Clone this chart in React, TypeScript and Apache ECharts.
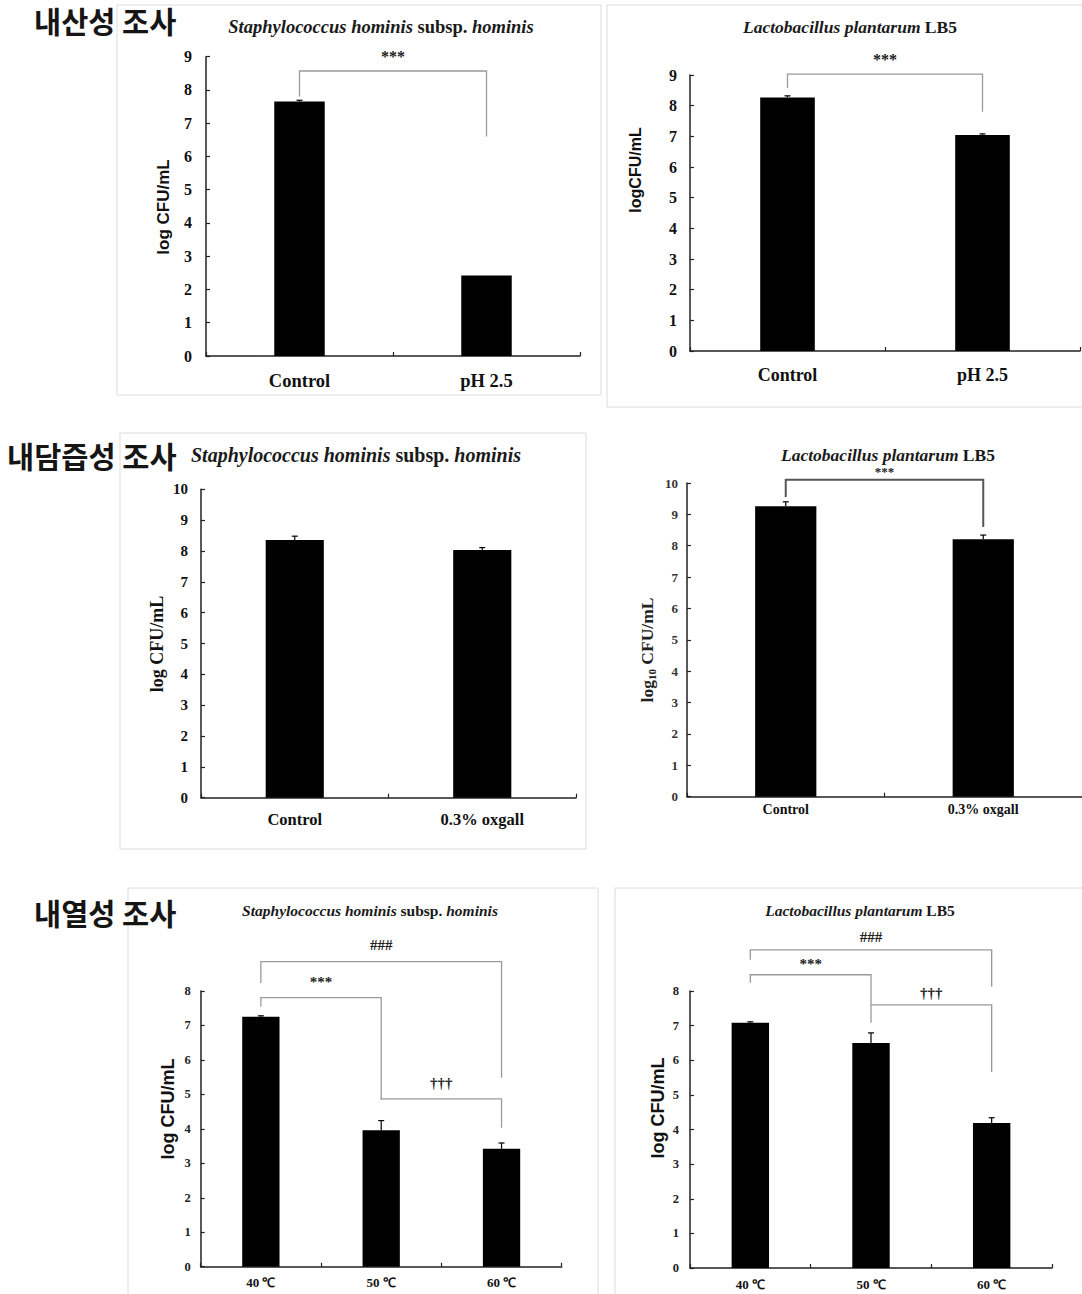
import React, { useEffect, useRef } from "react";
import * as echarts from "echarts";

// ---------- data ----------
const acidCats = ["Control", "pH 2.5"];
const bileCats = ["Control", "0.3% oxgall"];
const heatCats = ["40 ℃", "50 ℃", "60 ℃"];

const acidStaphMeans = [7.65, 2.42];
const acidStaphErr = [0.04, 0];
const acidLactoMeans = [8.27, 7.04];
const acidLactoErr = [0.05, 0.04];
const bileStaphMeans = [8.36, 8.03];
const bileStaphErr = [0.12, 0.08];
const bileLactoMeans = [9.26, 8.21];
const bileLactoErr = [0.14, 0.13];
const heatStaphMeans = [7.25, 3.96, 3.42];
const heatStaphErr = [0.03, 0.28, 0.17];
const heatLactoMeans = [7.08, 6.5, 4.19];
const heatLactoErr = [0.03, 0.29, 0.15];

// significance brackets: [fromIndex, toIndex, topY, leftEndY, rightEndY, labelY]
const acidStaphBrackets = [[0, 1, 8.57, 7.8, 6.6, 9.0]];
const acidStaphMarks = ["***"];
const acidLactoBrackets = [[0, 1, 9.03, 8.58, 7.8, 9.49]];
const acidLactoMarks = ["***"];
const bileStaphBrackets: number[][] = [];
const bileStaphMarks: string[] = [];
const bileLactoBrackets = [[0, 1, 10.1, 9.55, 8.6, 10.36]];
const bileLactoMarks = ["***"];
const heatStaphBrackets = [
  [0, 2, 8.85, 8.23, 5.48, 9.34],
  [0, 1, 7.81, 7.54, 4.84, 8.26],
  [1, 2, 4.87, 4.87, 4.03, 5.33],
];
const heatStaphMarks = ["###", "***", "†††"];
const heatLactoBrackets = [
  [0, 2, 9.19, 8.9, 8.12, 9.57],
  [0, 1, 8.47, 8.24, 7.08, 8.79],
  [1, 2, 7.6, 7.6, 5.66, 7.95],
];
const heatLactoMarks = ["###", "***", "†††"];

const staphTitle = "{i|Staphylococcus hominis} {n|subsp.} {i|hominis}";
const lactoTitle = "{i|Lactobacillus plantarum} {n|LB5}";

const SERIF = "Liberation Serif";
const SANS = "Liberation Sans";
const KR = "Noto Sans CJK KR";

type Panel = {
  grid: any;
  cats: string[];
  means: number[];
  errs: number[];
  max: number;
  barWidth: string;
  brackets: number[][];
  marks: string[];
  tickFont: number;
  tickMargin: number;
  catFont: number;
  catMargin: number;
  markFont: number;
  bracketColor: string;
  bracketWidth: number;
  tickColor: string;
};

const panels: Panel[] = [
  {
    grid: { left: 206, top: 56.7, width: 374, height: 299.3 },
    cats: acidCats, means: acidStaphMeans, errs: acidStaphErr, max: 9, barWidth: "27%",
    brackets: acidStaphBrackets, marks: acidStaphMarks,
    tickFont: 16, tickMargin: 14, catFont: 18.5, catMargin: 15, markFont: 16,
    bracketColor: "#9a9a9a", bracketWidth: 1.3, tickColor: "#111",
  },
  {
    grid: { left: 690, top: 75, width: 390, height: 276 },
    cats: acidCats, means: acidLactoMeans, errs: acidLactoErr, max: 9, barWidth: "28%",
    brackets: acidLactoBrackets, marks: acidLactoMarks,
    tickFont: 16, tickMargin: 13, catFont: 18, catMargin: 15, markFont: 16,
    bracketColor: "#9a9a9a", bracketWidth: 1.3, tickColor: "#111",
  },
  {
    grid: { left: 201, top: 489.3, width: 375, height: 308.4 },
    cats: bileCats, means: bileStaphMeans, errs: bileStaphErr, max: 10, barWidth: "31%",
    brackets: bileStaphBrackets, marks: bileStaphMarks,
    tickFont: 15, tickMargin: 13, catFont: 16.5, catMargin: 13, markFont: 14,
    bracketColor: "#9a9a9a", bracketWidth: 1.3, tickColor: "#111",
  },
  {
    grid: { left: 687, top: 483, width: 397, height: 313.7 },
    cats: bileCats, means: bileLactoMeans, errs: bileLactoErr, max: 10, barWidth: "31%",
    brackets: bileLactoBrackets, marks: bileLactoMarks,
    tickFont: 13, tickMargin: 9, catFont: 14, catMargin: 6, markFont: 13,
    bracketColor: "#555", bracketWidth: 2, tickColor: "#333",
  },
  {
    grid: { left: 200.7, top: 991, width: 361, height: 275.7 },
    cats: heatCats, means: heatStaphMeans, errs: heatStaphErr, max: 8, barWidth: "31%",
    brackets: heatStaphBrackets, marks: heatStaphMarks,
    tickFont: 12.5, tickMargin: 10, catFont: 13, catMargin: 9, markFont: 15,
    bracketColor: "#9a9a9a", bracketWidth: 1.3, tickColor: "#222",
  },
  {
    grid: { left: 690, top: 991, width: 362, height: 277 },
    cats: heatCats, means: heatLactoMeans, errs: heatLactoErr, max: 8, barWidth: "31%",
    brackets: heatLactoBrackets, marks: heatLactoMarks,
    tickFont: 12.5, tickMargin: 11, catFont: 13, catMargin: 10, markFont: 15,
    bracketColor: "#9a9a9a", bracketWidth: 1.3, tickColor: "#222",
  },
];

function titleText(x: number, y: number, text: string, size: number) {
  const base = { fontFamily: SERIF, fontWeight: "bold", fontSize: size, fill: "#1a1a1a" };
  return {
    type: "text",
    x,
    y,
    z: 10,
    style: {
      text,
      align: "center",
      verticalAlign: "middle",
      ...base,
      rich: {
        i: { ...base, fontStyle: "italic" },
        n: { ...base },
      },
    },
  };
}

function yName(x: number, y: number, text: string, family: string, size: number, rich?: any) {
  return {
    type: "text",
    x,
    y,
    rotation: Math.PI / 2,
    z: 10,
    style: {
      text,
      align: "center",
      verticalAlign: "middle",
      fontFamily: family,
      fontWeight: "bold",
      fontSize: size,
      fill: "#111",
      rich,
    },
  };
}

function korean(x: number, y: number, text: string) {
  return {
    type: "text",
    x,
    y,
    z: 10,
    style: {
      text,
      align: "left",
      verticalAlign: "middle",
      fontFamily: KR,
      fontSize: 29.5,
      fontWeight: "bold",
      fill: "#151515",
    },
  };
}

function box(x: number, y: number, w: number, h: number) {
  return {
    type: "rect",
    z: 0,
    shape: { x, y, width: w, height: h },
    style: { fill: "none", stroke: "#dcdcdc", lineWidth: 1 },
  };
}

export default function App() {
  const ref = useRef<HTMLDivElement>(null);

  useEffect(() => {
    if (!ref.current) return;
    const chart = echarts.init(ref.current, null, { renderer: "svg" });

    const series: any[] = [];
    panels.forEach((p, i) => {
      series.push({
        type: "bar",
        xAxisIndex: i,
        yAxisIndex: i,
        data: p.means,
        barWidth: p.barWidth,
        itemStyle: { color: "#000" },
        z: 2,
      });
      series.push({
        type: "custom",
        xAxisIndex: i,
        yAxisIndex: i,
        clip: false,
        z: 3,
        encode: { x: 0, y: 1 },
        data: p.means.map((m, j) => [j, m, p.errs[j]]),
        renderItem: (params: any, api: any) => {
          const x = api.value(0);
          const y = api.value(1);
          const e = api.value(2);
          if (!e) return { type: "group", children: [] };
          const b = api.coord([x, y]);
          const t = api.coord([x, y + e]);
          return {
            type: "group",
            children: [
              { type: "line", shape: { x1: b[0], y1: b[1], x2: t[0], y2: t[1] }, style: { stroke: "#000", lineWidth: 1.2 } },
              { type: "line", shape: { x1: t[0] - 3, y1: t[1], x2: t[0] + 3, y2: t[1] }, style: { stroke: "#000", lineWidth: 1.2 } },
            ],
          };
        },
      });
      if (p.brackets.length) {
        series.push({
          type: "custom",
          xAxisIndex: i,
          yAxisIndex: i,
          clip: false,
          z: 4,
          encode: { x: 0, y: 2 },
          data: p.brackets,
          renderItem: (params: any, api: any) => {
            const a = api.value(0);
            const b = api.value(1);
            const top = api.value(2);
            const lb = api.value(3);
            const rb = api.value(4);
            const ty = api.value(5);
            const pL = api.coord([a, lb]);
            const pLT = api.coord([a, top]);
            const pRT = api.coord([b, top]);
            const pR = api.coord([b, rb]);
            const pt = api.coord([a, ty]);
            return {
              type: "group",
              children: [
                {
                  type: "polyline",
                  shape: { points: [pL, pLT, pRT, pR] },
                  style: { stroke: p.bracketColor, lineWidth: p.bracketWidth, fill: "none" },
                },
                {
                  type: "text",
                  x: (pLT[0] + pRT[0]) / 2,
                  y: pt[1],
                  style: {
                    text: p.marks[params.dataIndex],
                    align: "center",
                    verticalAlign: "middle",
                    fontFamily: "Liberation Serif, DejaVu Serif",
                    fontWeight: "bold",
                    fontSize: p.markFont,
                    fill: "#222",
                  },
                },
              ],
            };
          },
        });
      }
    });

    const option: any = {
      animation: false,
      backgroundColor: "#fff",
      grid: panels.map((p) => ({ ...p.grid, containLabel: false })),
      xAxis: panels.map((p, i) => ({
        type: "category",
        gridIndex: i,
        data: p.cats,
        axisLine: { show: true, lineStyle: { color: "#222", width: 1.5 } },
        axisTick: { show: true, inside: true, length: 4, lineStyle: { color: "#222", width: 1.2 } },
        axisLabel: {
          margin: p.catMargin,
          fontFamily: SERIF,
          fontWeight: "bold",
          fontSize: p.catFont,
          color: "#111",
        },
        splitLine: { show: false },
      })),
      yAxis: panels.map((p, i) => ({
        type: "value",
        gridIndex: i,
        min: 0,
        max: p.max,
        interval: 1,
        axisLine: { show: true, lineStyle: { color: "#222", width: 1.5 } },
        axisTick: { show: true, inside: true, length: 4, lineStyle: { color: "#222", width: 1.2 } },
        axisLabel: {
          margin: p.tickMargin,
          fontFamily: SERIF,
          fontWeight: "bold",
          fontSize: p.tickFont,
          color: p.tickColor,
        },
        splitLine: { show: false },
      })),
      series,
      graphic: [
        box(117, 5, 484, 390),
        box(607, 5, 480, 402),
        box(120, 433, 466, 416),
        box(128, 888, 470, 420),
        box(615, 888, 480, 420),
        korean(34, 20, "내산성 조사"),
        korean(7, 455, "내담즙성 조사"),
        korean(34, 912, "내열성 조사"),
        titleText(381, 27, staphTitle, 18.5),
        titleText(850, 27, lactoTitle, 17.5),
        titleText(356, 455, staphTitle, 20),
        titleText(888, 455, lactoTitle, 17.5),
        titleText(370, 910, staphTitle, 15.5),
        titleText(860, 910, lactoTitle, 15.5),
        yName(163, 207, "log CFU/mL", SANS, 17),
        yName(635, 170, "logCFU/mL", SANS, 16),
        yName(157, 644, "log CFU/mL", SERIF, 18),
        yName(647, 650, "{a|log}{s|10}{a| CFU/mL}", SERIF, 17.5, {
          a: { fontFamily: SERIF, fontWeight: "bold", fontSize: 17.5, fill: "#222" },
          s: { fontFamily: SERIF, fontWeight: "bold", fontSize: 11, fill: "#222", verticalAlign: "bottom", padding: [9, 0, 0, 0] },
        }),
        yName(168, 1109, "log CFU/mL", SANS, 18),
        yName(658, 1108, "log CFU/mL", SANS, 18),
      ],
    };

    chart.setOption(option);
    return () => chart.dispose();
  }, []);

  return (
    <div
      ref={ref}
      style={{ position: "absolute", left: 0, top: 0, width: 1082, height: 1294, background: "#fff" }}
    />
  );
}
